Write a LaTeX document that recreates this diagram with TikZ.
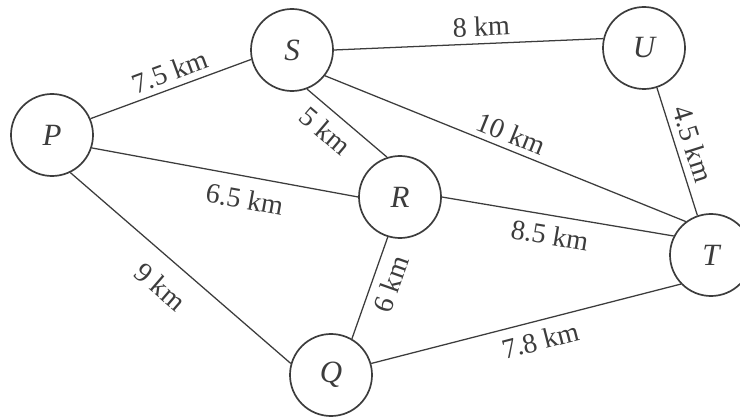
\documentclass[tikz,border=0pt]{standalone}
\usepackage{fontspec}
\setmainfont{Liberation Serif}
\definecolor{Ink}{HTML}{3C3C3C}
\definecolor{Paper}{HTML}{FFFFFF}
\tikzset{
  town/.style={circle, draw=Ink, line width=1.2pt, minimum size=2.05cm, inner sep=0pt, text=Ink, font=\fontsize{22}{26}\selectfont\itshape},
  road/.style={draw=Ink, line width=0.9pt},
  dist/.style={sloped, inner sep=0pt, text=Ink, font=\fontsize{20}{24}\selectfont}
}
\begin{document}
\begin{tikzpicture}[x=0.025cm,y=-0.025cm]
\useasboundingbox (0,0) rectangle (740,418);
\clip (0,0) rectangle (740,418);
\fill[Paper] (0,0) rectangle (740,418);
\node[town] (P) at (52,135){P};
\node[town] (S) at (292,50){S};
\node[town] (U) at (644,48){U};
\node[town] (R) at (400,197){R};
\node[town] (T) at (711,255){T};
\node[town] (Q) at (331,375){Q};
\draw[road] (P.23) -- node[dist,pos=0.53,above=4.2pt]{7.5 km} (S.193);
\draw[road] (S.0) -- node[dist,pos=0.55,above=4.9pt]{8 km} (U.167);
\draw[road] (S.-69) -- node[dist,pos=0.39,below=6.6pt]{5 km} (R.108);
\draw[road] (S.-38) -- node[dist,pos=0.5,above=4.1pt]{10 km} (T.127);
\draw[road] (U.-72) -- node[dist,pos=0.48,above=5pt]{4.5 km} (T.109);
\draw[road] (P.-18) -- node[dist,pos=0.59,below=8.7pt]{6.5 km} (R.180);
\draw[road] (R.0) -- node[dist,pos=0.48,below=6.5pt]{8.5 km} (T.153);
\draw[road] (P.-64) -- node[dist,pos=0.49,below=11.7pt]{9 km} (Q.164);
\draw[road] (R.-107) -- node[dist,pos=0.4,below=5.9pt]{6 km} (Q.60);
\draw[road] (Q.16) -- node[dist,pos=0.53,below=6.5pt]{7.8 km} (T.224);
\end{tikzpicture}
\end{document}
